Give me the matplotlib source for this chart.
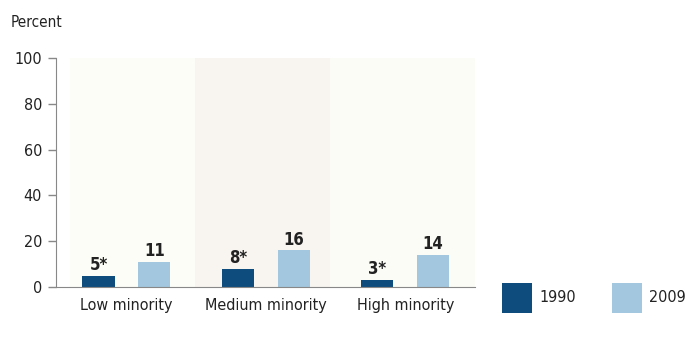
import matplotlib.pyplot as plt
from matplotlib.patches import Rectangle

categories = ["Low minority", "Medium minority", "High minority"]
values_1990 = [5, 8, 3]
values_2009 = [11, 16, 14]
labels_1990 = ["5*", "8*", "3*"]
labels_2009 = ["11", "16", "14"]
yticks = [0, 20, 40, 60, 80, 100]

plt.rcParams['font.family'] = ['DejaVu Sans']
plt.rcParams['font.stretch'] = 'condensed'

c1990 = '#0f4c7e'
c2009 = '#a3c7de'
band_colors = ['#fdfdf7', '#f8f4f0', '#fcfcf6']

W, H = 686, 345
fig = plt.figure(figsize=(W / 100, H / 100), dpi=100)
ax = fig.add_axes([56 / W, 1 - 287 / H, (475 - 56) / W, (287 - 58) / H])

x = list(range(len(categories)))
w = 0.23
off = 0.2

# shaded bands behind each group
edges = [-0.405, 0.49, 1.46, 2.5]
for i, col in enumerate(band_colors):
    ax.axvspan(edges[i], edges[i + 1], ymin=0, ymax=1, color=col, lw=0, zorder=0)

b1 = ax.bar([i - off for i in x], values_1990, w, color=c1990, zorder=2)
b2 = ax.bar([i + off for i in x], values_2009, w, color=c2009, zorder=2)

for rect, lab in zip(b1, labels_1990):
    ax.text(rect.get_x() + rect.get_width() / 2, rect.get_height() + 0.8, lab,
            ha='center', va='bottom', fontsize=12, fontweight='bold', color='#222222')
for rect, lab in zip(b2, labels_2009):
    ax.text(rect.get_x() + rect.get_width() / 2, rect.get_height() + 0.8, lab,
            ha='center', va='bottom', fontsize=12, fontweight='bold', color='#222222')

ax.set_xlim(-0.505, 2.5)
ax.set_ylim(0, 100)
ax.set_yticks(yticks)
ax.set_xticks(x)
ax.set_xticklabels(categories, fontsize=11.5, color='#222222')
ax.tick_params(axis='y', labelsize=11.5, colors='#222222', length=6, width=1,
               color='#888888', pad=4)
ax.tick_params(axis='x', length=0, pad=8)

for s in ['top', 'right']:
    ax.spines[s].set_visible(False)
ax.spines['left'].set_color('#888888')
ax.spines['bottom'].set_color('#888888')
ax.set_facecolor('white')

fig.text(0.015, 0.935, "Percent", fontsize=11, color='#222222', va='center')

# legend drawn by hand: big square swatches at bottom right
for x0, col, lab in [(502, c1990, '1990'), (612, c2009, '2009')]:
    fig.add_artist(Rectangle((x0 / W, 1 - 313 / H), 30 / W, 30 / H,
                             transform=fig.transFigure, color=col, lw=0))
    fig.text((x0 + 37) / W, 1 - 298 / H, lab, fontsize=11.5, color='#222222',
             va='center', ha='left')

fig.savefig('out.png', dpi=100)
